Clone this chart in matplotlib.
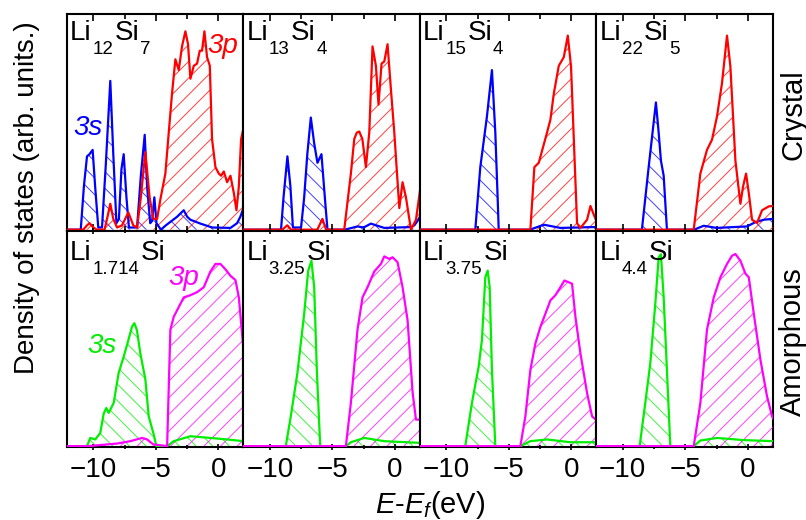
import numpy as np
import matplotlib
matplotlib.use("Agg")
import matplotlib.pyplot as plt
from matplotlib.ticker import MultipleLocator

plt.rcParams['font.family'] = 'Liberation Sans'
plt.rcParams['mathtext.fontset'] = 'custom'
plt.rcParams['mathtext.rm'] = 'Liberation Sans'
plt.rcParams['mathtext.it'] = 'Liberation Sans:italic'
plt.rcParams['hatch.linewidth'] = 0.7

# DOS curves: (E - Ef in eV, DOS in arb. units)
# crystal phases, Si 3s (blue) and 3p (red)
li12si7_3s = [(-12.1, 0), (-11.0, 0), (-10.75, 0.2), (-10.5, 0.34), (-10.3, 0.35), (-10.05, 0.37),
              (-9.85, 0.2), (-9.6, 0.01), (-9.3, 0.01), (-9.0, 0.3), (-8.64, 0.69), (-8.4, 0.35),
              (-8.15, 0.03), (-7.95, 0.05), (-7.75, 0.28), (-7.57, 0.35), (-7.35, 0.15), (-7.15, 0.01),
              (-6.5, 0.01), (-6.2, 0.25), (-5.89, 0.44), (-5.7, 0.2), (-5.45, 0.03), (-5.3, 0.04),
              (-5.12, 0.15), (-4.95, 0.03), (-4.6, 0.0), (-4.2, 0.02), (-3.3, 0.06), (-2.77, 0.09),
              (-2.5, 0.06), (-2.24, 0.046), (-1.44, 0.028), (-0.5, 0.01), (0.96, 0.008), (1.49, 0.03),
              (1.75, 0.06), (2.0, 0.1)]
li12si7_3p = [(-12.1, 0), (-10.8, 0), (-10.5, 0.02), (-10.3, 0.03), (-10.0, 0.01), (-9.7, 0),
              (-9.1, 0), (-8.9, 0.05), (-8.64, 0.12), (-8.4, 0.05), (-8.1, 0.01), (-7.7, 0.02),
              (-7.2, 0.08), (-6.8, 0.02), (-6.5, 0.01), (-6.2, 0.15), (-5.84, 0.36), (-5.5, 0.15),
              (-5.2, 0.05), (-4.9, 0.05), (-4.64, 0.14), (-4.24, 0.26), (-3.97, 0.45), (-3.71, 0.63),
              (-3.44, 0.79), (-3.17, 0.74), (-2.91, 0.85), (-2.64, 0.92), (-2.43, 0.86), (-2.24, 0.70),
              (-1.97, 0.76), (-1.71, 0.77), (-1.49, 0.83), (-1.31, 0.83), (-1.12, 0.92), (-0.91, 0.80),
              (-0.69, 0.76), (-0.51, 0.42), (-0.24, 0.29), (0.03, 0.26), (0.21, 0.25), (0.43, 0.27),
              (0.69, 0.22), (0.96, 0.25), (1.23, 0.17), (1.44, 0.09), (1.63, 0.20), (1.81, 0.42),
              (2.0, 0.47)]
li13si4_3s = [(-12.1, 0), (-9.1, 0), (-8.9, 0.15), (-8.59, 0.34), (-8.35, 0.2), (-8.15, 0.01),
              (-7.5, 0.01), (-7.25, 0.15), (-7.0, 0.35), (-6.72, 0.52), (-6.45, 0.4), (-6.19, 0.31),
              (-5.87, 0.35), (-5.6, 0.15), (-5.39, 0.0), (-4.0, 0), (-2.99, 0.015), (-2.5, 0.01),
              (-1.92, 0.028), (-0.85, 0.008), (1.3, 0.012), (1.55, 0.02), (1.8, 0.04), (2.0, 0.06)]
li13si4_3p = [(-12.1, 0), (-9.0, 0), (-8.6, 0.02), (-8.3, 0), (-6.2, 0), (-5.79, 0.05), (-5.5, 0),
              (-4.05, 0), (-3.52, 0.26), (-3.25, 0.42), (-3.05, 0.45), (-2.85, 0.455), (-2.6, 0.42),
              (-2.32, 0.29), (-2.05, 0.45), (-1.79, 0.85), (-1.52, 0.76), (-1.31, 0.58), (-1.07, 0.77),
              (-0.85, 0.78), (-0.59, 0.86), (-0.32, 0.65), (-0.05, 0.45), (0.35, 0.1), (0.61, 0.22),
              (0.88, 0.15), (1.28, 0), (1.68, 0.046), (2.0, 0.18)]
li15si4_3s = [(-12.1, 0), (-7.68, 0), (-7.28, 0.29), (-6.75, 0.525), (-6.35, 0.74), (-6.08, 0.45),
              (-5.89, 0.14), (-5.81, 0), (-3.3, 0), (-2.21, 0.023), (-0.88, 0.008), (1.79, 0.012),
              (2.0, 0.01)]
li15si4_3p = [(-12.1, 0), (-3.28, 0), (-2.96, 0.29), (-2.61, 0.31), (-1.95, 0.45), (-1.68, 0.51),
              (-1.41, 0.63), (-1.01, 0.76), (-0.61, 0.80), (-0.29, 0.90), (-0.03, 0.756), (0.19, 0.42),
              (0.45, 0.03), (0.72, 0.008), (1.25, 0.046), (1.52, 0.11), (1.85, 0.06), (2.0, 0.04)]
li22si5_3s = [(-12.1, 0), (-8.47, 0), (-7.93, 0.29), (-7.35, 0.59), (-7.13, 0.45), (-6.95, 0.32),
              (-6.73, 0.25), (-6.47, 0), (-4.3, 0), (-3.53, 0.018), (-2.5, 0.008), (-0.07, 0.015),
              (0.6, 0.035), (1.27, 0.046), (2.0, 0.05)]
li22si5_3p = [(-12.1, 0), (-4.33, 0), (-3.8, 0.26), (-3.27, 0.37), (-2.87, 0.417), (-2.47, 0.525),
              (-2.07, 0.68), (-1.67, 0.9), (-1.4, 0.756), (-1.0, 0.32), (-0.6, 0.12), (-0.39, 0.2),
              (-0.15, 0.26), (0.07, 0.17), (0.33, 0.046), (0.73, 0.031), (1.13, 0.09), (1.67, 0.108),
              (2.0, 0.11)]

# amorphous phases, Si 3s (green) and 3p (magenta)
li1714si_3s = [(-12.1, 0), (-10.5, 0), (-10.24, 0.038), (-9.84, 0.031), (-9.44, 0.061), (-9.17, 0.15),
               (-8.96, 0.177), (-8.77, 0.154), (-8.37, 0.2), (-7.97, 0.34), (-7.57, 0.415), (-7.25, 0.48),
               (-6.91, 0.553), (-6.72, 0.57), (-6.51, 0.538), (-6.24, 0.43), (-5.84, 0.31), (-5.57, 0.138),
               (-5.17, 0.054), (-4.96, 0), (-4.1, 0), (-3.57, 0.023), (-2.24, 0.046), (-0.64, 0.038),
               (0.69, 0.031), (2.0, 0.023)]
li1714si_3p = [(-12.1, 0), (-10.4, 0), (-8.1, 0.012), (-7.04, 0.023), (-6.1, 0.038), (-5.7, 0.031),
               (-5.2, 0.008), (-4.1, 0), (-3.84, 0.54), (-3.57, 0.60), (-3.17, 0.645), (-2.77, 0.69),
               (-2.24, 0.70), (-1.71, 0.714), (-1.17, 0.737), (-0.64, 0.81), (-0.24, 0.845), (0.16, 0.845),
               (0.56, 0.82), (0.96, 0.79), (1.36, 0.77), (1.63, 0.69), (1.89, 0.52), (2.0, 0.45)]
li325si_3s = [(-12.1, 0), (-8.72, 0), (-8.32, 0.138), (-7.79, 0.34), (-7.25, 0.614), (-6.93, 0.814),
              (-6.67, 0.86), (-6.45, 0.737), (-6.24, 0.353), (-5.97, 0), (-3.92, 0), (-3.52, 0.018),
              (-2.45, 0.038), (-0.85, 0.023), (2.0, 0.015)]
li325si_3p = [(-12.1, 0), (-3.92, 0), (-3.52, 0.2), (-2.99, 0.54), (-2.59, 0.69), (-2.19, 0.737),
              (-1.65, 0.81), (-1.12, 0.845), (-0.85, 0.88), (-0.45, 0.868), (-0.19, 0.876), (0.21, 0.853),
              (0.61, 0.737), (1.01, 0.584), (1.41, 0.25), (1.68, 0.123), (2.0, 0.123)]
li375si_3s = [(-12.1, 0), (-8.48, 0), (-7.95, 0.2), (-7.41, 0.369), (-7.15, 0.492), (-6.88, 0.783),
              (-6.69, 0.814), (-6.53, 0.737), (-6.35, 0.353), (-6.08, 0), (-4.08, 0), (-3.28, 0.023),
              (-1.95, 0.031), (-0.08, 0.018), (2.0, 0.018)]
li375si_3p = [(-12.1, 0), (-4.08, 0), (-3.68, 0.138), (-3.28, 0.353), (-2.88, 0.476), (-2.48, 0.553),
              (-2.08, 0.614), (-1.68, 0.676), (-1.28, 0.7), (-0.88, 0.737), (-0.56, 0.768), (-0.21, 0.76),
              (0.05, 0.753), (0.32, 0.599), (0.72, 0.43), (1.25, 0.246), (1.65, 0.138), (2.0, 0.12)]
li44si_3s = [(-12.1, 0), (-8.65, 0), (-8.2, 0.2), (-7.8, 0.384), (-7.4, 0.66), (-7.13, 0.876),
             (-6.95, 0.89), (-6.73, 0.69), (-6.47, 0.353), (-6.2, 0), (-4.33, 0), (-3.8, 0.026),
             (-2.47, 0.038), (-0.33, 0.028), (2.0, 0.023)]
li44si_3p = [(-12.1, 0), (-4.33, 0), (-3.8, 0.2), (-3.27, 0.54), (-2.73, 0.69), (-2.2, 0.783),
             (-1.67, 0.845), (-1.27, 0.883), (-1.0, 0.891), (-0.6, 0.86), (-0.2, 0.8), (0.07, 0.783),
             (0.47, 0.614), (1.0, 0.4), (1.53, 0.23), (1.93, 0.138), (2.0, 0.13)]

crystal_names = [[("Li", "12"), ("Si", "7")], [("Li", "13"), ("Si", "4")],
                 [("Li", "15"), ("Si", "4")], [("Li", "22"), ("Si", "5")]]
amorphous_names = [[("Li", "1.714"), ("Si", "")], [("Li", "3.25"), ("Si", "")],
                   [("Li", "3.75"), ("Si", "")], [("Li", "4.4"), ("Si", "")]]
crystal_s = [li12si7_3s, li13si4_3s, li15si4_3s, li22si5_3s]
crystal_p = [li12si7_3p, li13si4_3p, li15si4_3p, li22si5_3p]
amorphous_s = [li1714si_3s, li325si_3s, li375si_3s, li44si_3s]
amorphous_p = [li1714si_3p, li325si_3p, li375si_3p, li44si_3p]


def formula(ax, parts, y):
    # element symbols with dropped subscripts, chained one after another
    first = ax.text(0.017, y, parts[0][0], transform=ax.transAxes, fontsize=20,
                    va='baseline', ha='left')
    prev = first
    for i, (elem, sub) in enumerate(parts):
        if i > 0:
            prev = ax.annotate(elem, xy=(1, 0), xycoords=(prev, first), xytext=(1, 0),
                               textcoords='offset points', fontsize=20, va='bottom', ha='left')
        if sub:
            prev = ax.annotate(sub, xy=(1, 0), xycoords=prev, xytext=(0.5, -6),
                               textcoords='offset points', fontsize=13.5, va='baseline', ha='left')


def draw_dos(ax, curve, color, hatch):
    x, y = np.array(curve).T
    ax.fill_between(x, 0, y, facecolor='none', edgecolor=color, alpha=0.75,
                    hatch=hatch, linewidth=0)
    ax.plot(x, y, color=color, lw=1.6)


fig, axes = plt.subplots(2, 4, figsize=(8.06, 5.2), dpi=100, sharex=True, sharey=True)
fig.subplots_adjust(left=0.0831, right=0.959, top=0.973, bottom=0.1404, wspace=0, hspace=0)

for row, (names, s_list, p_list, cs, cp) in enumerate([
        (crystal_names, crystal_s, crystal_p, '#0000ff', '#ff0000'),
        (amorphous_names, amorphous_s, amorphous_p, '#00ee00', '#ff00ff')]):
    for col in range(4):
        ax = axes[row, col]
        draw_dos(ax, s_list[col], cs, '\\\\')
        draw_dos(ax, p_list[col], cp, '//')
        formula(ax, names[col], 0.88 if row == 0 else 0.865)

for ax in axes.flat:
    ax.set_xlim(-12.1, 2.0)
    ax.set_ylim(-0.004, 1.0)
    ax.set_yticks([])
    ax.xaxis.set_major_locator(MultipleLocator(5))
    ax.xaxis.set_minor_locator(MultipleLocator(2.5))
    ax.tick_params(axis='x', which='both', direction='in', top=True, width=1.2,
                   labelsize=20, pad=5)
    ax.tick_params(axis='x', which='major', length=5)
    ax.tick_params(axis='x', which='minor', length=3.5)
    for sp in ax.spines.values():
        sp.set_linewidth(1.5)
        sp.set_zorder(0.5)
for ax in axes[1]:
    ax.tick_params(axis='x', which='both', direction='inout')

# orbital labels
axes[0, 0].text(0.034, 0.44, "3s", transform=axes[0, 0].transAxes, color='#0000ff',
                fontsize=20, fontstyle='italic')
axes[0, 0].text(0.795, 0.82, "3p", transform=axes[0, 0].transAxes, color='#ff0000',
                fontsize=20, fontstyle='italic')
axes[1, 0].text(0.114, 0.433, "3s", transform=axes[1, 0].transAxes, color='#00ee00',
                fontsize=20, fontstyle='italic')
axes[1, 0].text(0.574, 0.747, "3p", transform=axes[1, 0].transAxes, color='#ff00ff',
                fontsize=20, fontstyle='italic')

fig.text(0.0335, 0.619, "Density of states (arb. units.)", rotation=90,
         ha='center', va='center', fontsize=20)
fig.text(0.984, 0.779, "Crystal", rotation=90, ha='center', va='center', fontsize=21)
fig.text(0.984, 0.343, "Amorphous", rotation=90, ha='center', va='center', fontsize=21)
fig.text(0.465, 0.0135, r"$E$-$E_{f}$(eV)", ha='left', va='baseline', fontsize=21)

fig.savefig("out.png", dpi=100)
